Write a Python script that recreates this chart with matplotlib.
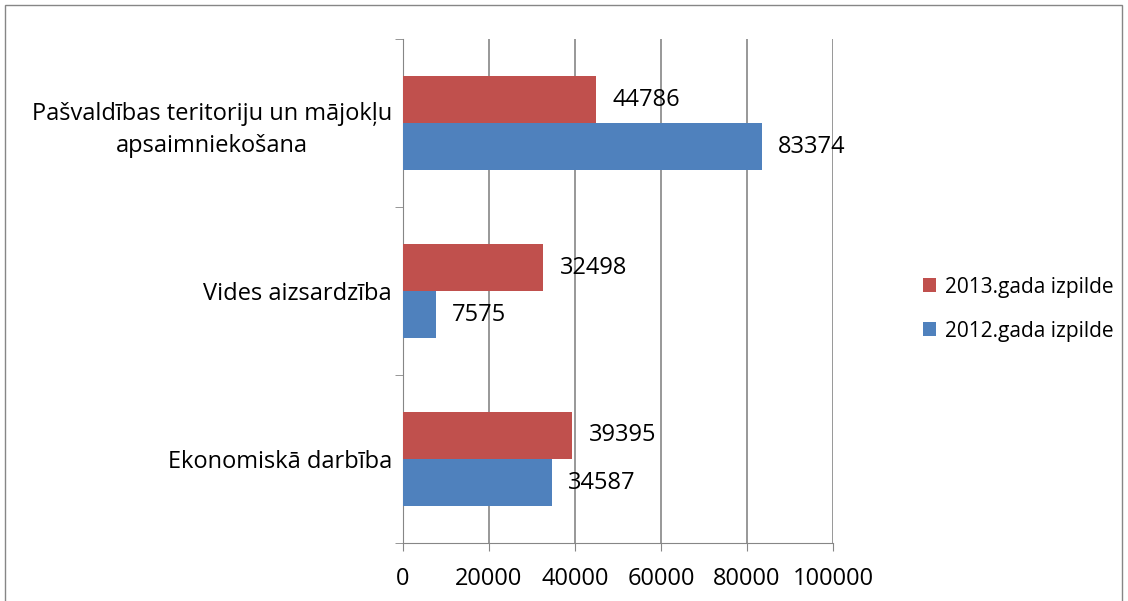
import matplotlib.pyplot as plt
import numpy as np
from matplotlib.patches import Rectangle

categories = ['Ekonomiskā darbība', 'Vides aizsardzība',
              'Pašvaldības teritoriju un mājokļu\napsaimniekošana']
izpilde_2012 = [34587, 7575, 83374]
izpilde_2013 = [39395, 32498, 44786]
series_labels = ['2013.gada izpilde', '2012.gada izpilde']

plt.rcParams['font.family'] = ['Open Sans', 'DejaVu Sans']

fig = plt.figure(figsize=(11.28, 6.01), dpi=100)
fig.patches.append(Rectangle((0.004, -0.01), 0.991, 1.002, transform=fig.transFigure,
                             fill=False, edgecolor='#868686', linewidth=1))
ax = fig.add_axes([0.3573, 0.0965, 0.3812, 0.8385])

y = np.arange(len(categories))
h = 0.28
red = '#C0504D'
blue = '#4F81BD'
b13 = ax.barh(y + h / 2, izpilde_2013, h, color=red, label=series_labels[0], zorder=3)
b12 = ax.barh(y - h / 2, izpilde_2012, h, color=blue, label=series_labels[1], zorder=3)

for bars, vals in ((b13, izpilde_2013), (b12, izpilde_2012)):
    for bar, v in zip(bars, vals):
        ax.annotate(str(v), (v, bar.get_y() + bar.get_height() / 2),
                    xytext=(12, 0), textcoords='offset points',
                    va='center', ha='left', fontsize=17, zorder=4)

ax.set_xlim(0, 100000)
ax.set_ylim(-0.5, 2.5)
ax.set_xticks(np.arange(0, 100001, 20000))
ax.tick_params(axis='x', labelsize=17, length=6, color='#868686', pad=11)
ax.xaxis.grid(True, color='#868686', linewidth=1.2, zorder=0)

ax.set_yticks(y)
ax.set_yticklabels(categories, fontsize=17)
ax.set_yticks([-0.5, 0.5, 1.5, 2.5], minor=True)
ax.tick_params(axis='y', which='major', length=0, pad=8)
ax.tick_params(axis='y', which='minor', length=6, color='#868686')
for lbl in ax.get_yticklabels():
    lbl.set_multialignment('center')
    lbl.set_linespacing(1.45)

for s in ('top', 'right'):
    ax.spines[s].set_visible(False)
ax.spines['left'].set_color('#868686')
ax.spines['bottom'].set_color('#868686')

leg = ax.legend(loc='center left', bbox_to_anchor=(1.165, 0.464), frameon=False,
                fontsize=15, handlelength=0.65, handleheight=0.65, handletextpad=0.4,
                labelspacing=1.1)

fig.savefig('out.png', dpi=100)
